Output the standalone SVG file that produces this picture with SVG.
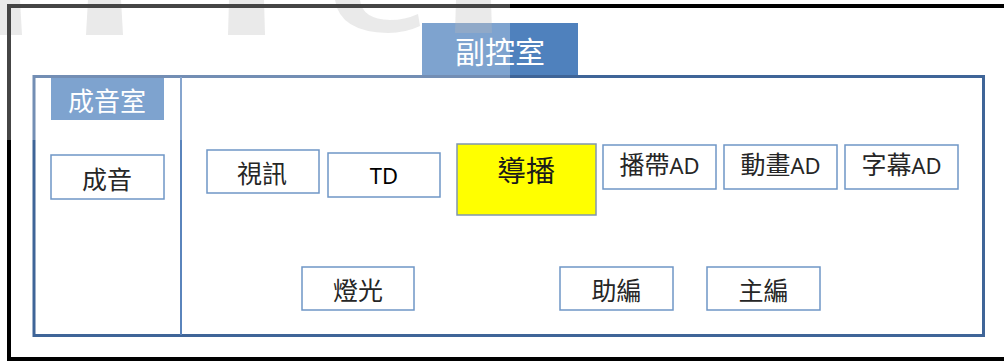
<svg xmlns="http://www.w3.org/2000/svg" width="1004" height="361" viewBox="0 0 1004 361">
  <style>
    .box { fill: #ffffff; stroke: #6f96c6; stroke-width: 1.5; }
    .lbl { fill: #4f81bd; }
    .cjk { font-family: "Noto Sans CJK TC", "Noto Sans CJK SC", sans-serif; font-size: 25px; fill: #262626; text-anchor: middle; }
    .lat { font-family: "Noto Sans", "Liberation Sans", sans-serif; font-size: 22px; }
    .wt { fill: #ffffff; }
    .wm { fill: #a0a0a0; fill-opacity: 0.3; }
  </style>
  <rect x="0" y="0" width="1004" height="361" fill="#ffffff"/>

  <g id="panel">
    <rect x="34" y="76.5" width="949.5" height="259" fill="#ffffff" stroke="#3f6598" stroke-width="3"/>
    <line x1="181" y1="77" x2="181" y2="335" stroke="#5a84bc" stroke-width="2"/>
  </g>

  <g id="label-fukong">
    <rect class="lbl" x="422" y="23" width="156" height="52"/>
    <text class="cjk wt" x="500" y="63" style="font-size:30px;fill:#ffffff">副控室</text>
  </g>

  <g id="label-chengyinshi">
    <rect class="lbl" x="51" y="78" width="113" height="42"/>
    <text class="cjk" x="107" y="111" style="font-size:26px;fill:#ffffff">成音室</text>
  </g>

  <g id="node-chengyin">
    <rect class="box" x="51" y="155" width="113" height="44"/>
    <text class="cjk" x="107" y="189">成音</text>
  </g>

  <g id="node-shixun">
    <rect class="box" x="207" y="150" width="112" height="43"/>
    <text class="cjk" x="262" y="183">視訊</text>
  </g>

  <g id="node-td">
    <rect class="box" x="328" y="153" width="112" height="44"/>
    <text class="cjk lat" x="384" y="184" style="fill:#000000">TD</text>
  </g>

  <g id="node-daobo">
    <rect x="457" y="144" width="139" height="71" fill="#ffff00" stroke="#8096b0" stroke-width="1.5"/>
    <text class="cjk" x="526" y="182" style="font-size:29px;fill:#1a1a1a">導播</text>
  </g>

  <g id="node-bodai">
    <rect class="box" x="603" y="145" width="113" height="44"/>
    <text class="cjk" x="659.5" y="174">播帶<tspan class="lat">AD</tspan></text>
  </g>

  <g id="node-donghua">
    <rect class="box" x="724" y="145" width="113" height="44"/>
    <text class="cjk" x="780.5" y="174">動畫<tspan class="lat">AD</tspan></text>
  </g>

  <g id="node-zimu">
    <rect class="box" x="845" y="145" width="113" height="44"/>
    <text class="cjk" x="901.5" y="174">字幕<tspan class="lat">AD</tspan></text>
  </g>

  <g id="node-dengguang">
    <rect class="box" x="302" y="267" width="112" height="43"/>
    <text class="cjk" x="358" y="300">燈光</text>
  </g>

  <g id="node-zhubian2">
    <rect class="box" x="560" y="267" width="113" height="43"/>
    <text class="cjk" x="616.5" y="300">助編</text>
  </g>

  <g id="node-zhubian">
    <rect class="box" x="707" y="267" width="113" height="43"/>
    <text class="cjk" x="763.5" y="300">主編</text>
  </g>

  <g id="watermark">
    <path class="wm" d="M0,0 L20,0 Q21,18 22,35 L0,35 Z"/>
    <path class="wm" d="M88,0 L121,0 L123,35 L86,35 Z"/>
    <path class="wm" d="M229,0 L264,0 L265,35 L228,35 Z"/>
    <path class="wm" d="M335,0 L360,0 Q362,19 390,20 Q405,20 418,14 L420,26 Q405,33 388,33 Q340,32 335,0 Z"/>
    <path class="wm" d="M456,0 L491,0 L492,33 L455,33 Z"/>
  </g>

  <g id="frame">
    <rect x="9" y="6" width="1010" height="353" fill="none" stroke="#000000" stroke-width="4"/>
  </g>

  <rect id="veil" x="0" y="0" width="510" height="140" fill="#ffffff" fill-opacity="0.27"/>
</svg>
